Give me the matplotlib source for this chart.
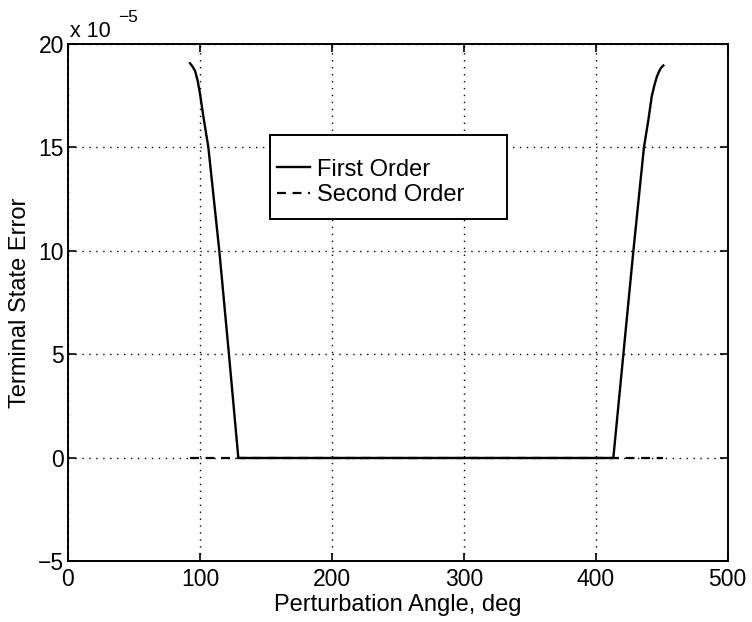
import matplotlib.pyplot as plt
from matplotlib.patches import Rectangle

# error of the terminal state (units of 1e-5) against perturbation angle
first_angle = [92.5, 93.3, 94.5, 96.3, 98.2, 100.0, 102.6, 106.4, 114.7, 122.0, 129.1,
               413.3, 420.9, 428.5, 436.5, 439.8, 442.4, 444.4, 446.2, 447.5, 449.0,
               450.2, 451.2]
first_err = [19.07, 19.0, 18.9, 18.7, 18.25, 17.62, 16.5, 15.0, 10.0, 5.0, 0.0,
             0.0, 5.0, 10.0, 15.0, 16.3, 17.46, 18.0, 18.4, 18.6, 18.8,
             18.9, 18.96]

second_angle = [92.5, 451.2]
second_err = [0.0, 0.0]

x_ticks = [0, 100, 200, 300, 400, 500]
y_ticks = [-5, 0, 5, 10, 15, 20]

plt.rcParams['font.family'] = ['Liberation Sans', 'DejaVu Sans']
FS_TICK = 16.5
FS_LAB = 17

fig = plt.figure(figsize=(7.52, 6.22), dpi=100)
ax = fig.add_axes([0.0904, 0.0973, 0.8773, 0.832])

ax.plot(first_angle, first_err, color='black', lw=1.7, label='First Order')
ax.plot(second_angle, second_err, color='black', lw=1.6,
        linestyle=(0, (4, 3)), label='Second Order')

ax.set_xlim(0, 500)
ax.set_ylim(-5, 20)
ax.set_xticks(x_ticks)
ax.set_yticks(y_ticks)
ax.set_yticklabels(['\u22125'] + [str(t) for t in y_ticks[1:]])
ax.tick_params(direction='in', length=6, width=1.2, top=True, right=True,
               labelsize=FS_TICK, pad=5)
ax.tick_params(axis='y', pad=3)
ax.grid(True, color='black', linestyle=(0, (1, 4)), linewidth=1.0)
for sp in ax.spines.values():
    sp.set_linewidth(1.4)

ax.set_xlabel('Perturbation Angle, deg', fontsize=FS_LAB, labelpad=2)
ax.set_ylabel('Terminal State Error', fontsize=FS_LAB, labelpad=5)

# exponent label in the upper left corner
ax.text(0.003, 1.0135, 'x 10', transform=ax.transAxes, fontsize=15.5,
        ha='left', va='baseline')
ax.text(0.0758, 1.0425, '\u22125', transform=ax.transAxes, fontsize=12.5,
        ha='left', va='baseline')

# legend box, wider than its entries
ax.add_patch(Rectangle((0.306, 0.662), 0.359, 0.162, transform=ax.transAxes,
                       facecolor='white', edgecolor='black', lw=1.4, zorder=4))
leg = ax.legend(loc='center left', bbox_to_anchor=(0.3167, 0.7324),
                fontsize=FS_LAB, frameon=False,
                handlelength=1.4, handletextpad=0.3, borderpad=0,
                labelspacing=0.145, borderaxespad=0)
leg.set_zorder(5)

fig.savefig('out.png', dpi=100)
